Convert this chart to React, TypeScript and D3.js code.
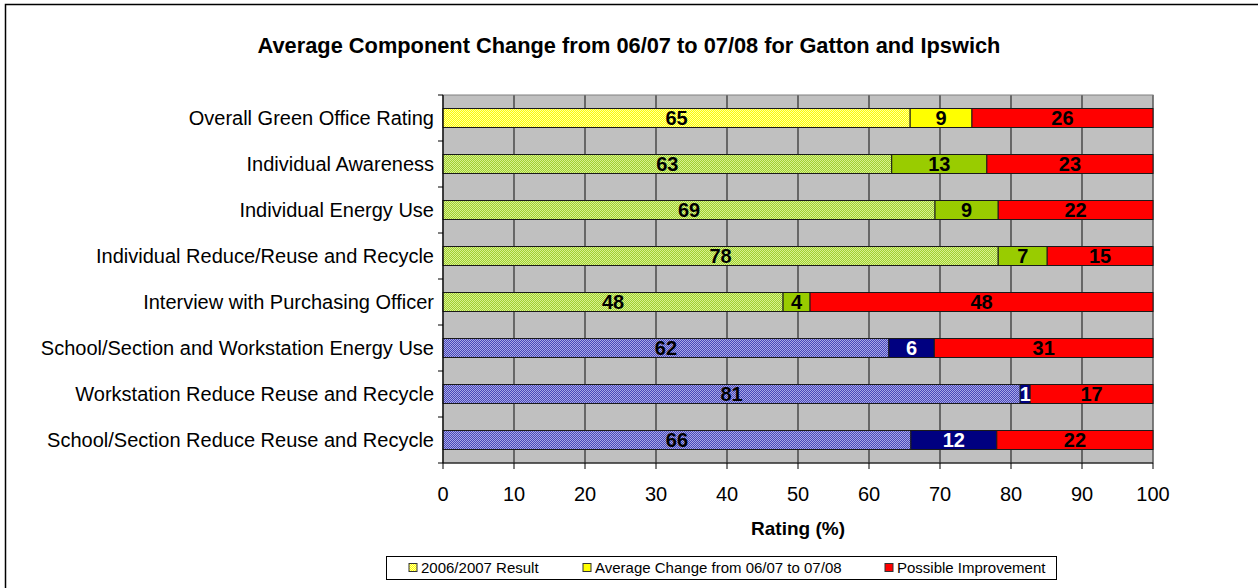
import React from "react";
import * as d3 from "d3";

const categories = [
  "Overall Green Office Rating",
  "Individual Awareness ",
  "Individual Energy Use",
  "Individual Reduce/Reuse and Recycle",
  "Interview with Purchasing Officer",
  "School/Section and Workstation Energy Use",
  "Workstation Reduce Reuse and Recycle",
  "School/Section Reduce Reuse and Recycle",
];
const groupOfCategory = ["yellow", "green", "green", "green", "green", "blue", "blue", "blue"];
const result0607 = [65.8, 63.2, 69.3, 78.2, 47.9, 62.8, 81.3, 65.9];
const avgChange = [8.7, 13.4, 8.9, 6.9, 3.8, 6.4, 1.4, 12.1];
const possibleImprovement = [25.5, 23.4, 21.8, 14.9, 48.3, 30.8, 17.3, 22.0];
const resultLabels = ["65", "63", "69", "78", "48", "62", "81", "66"];
const changeLabels = ["9", "13", "9", "7", "4", "6", "1", "12"];
const improvementLabels = ["26", "23", "22", "15", "48", "31", "17", "22"];
const xTicks = [0, 10, 20, 30, 40, 50, 60, 70, 80, 90, 100];
const legendLabels = ["2006/2007 Result", "Average Change from 06/07 to 07/08", "Possible Improvement"];
const title = "Average Component Change from 06/07 to 07/08 for Gatton and Ipswich";
const xAxisTitle = "Rating (%)";

const W = 1258;
const H = 588;
const plot = { left: 443, right: 1153, top: 95, bottom: 463 };
const FONT = "'Liberation Sans', Arial, sans-serif";

const patternFor: Record<string, string> = {
  yellow: "url(#patYellow)",
  green: "url(#patGreen)",
  blue: "url(#patBlue)",
};
const solidFor: Record<string, string> = {
  yellow: "#ffff00",
  green: "#99cc00",
  blue: "#000080",
};
const changeTextColor: Record<string, string> = {
  yellow: "#000",
  green: "#000",
  blue: "#fff",
};

export default function App() {
  const x = d3.scaleLinear().domain([0, 100]).range([plot.left, plot.right]);
  const p = 0.587;
  const y = d3
    .scaleBand<string>()
    .domain(categories)
    .range([plot.top, plot.bottom])
    .paddingInner(p)
    .paddingOuter(p / 2);
  const bw = y.bandwidth();
  const step = y.step();

  const segs: any[] = [];
  categories.forEach((c, i) => {
    const g = groupOfCategory[i];
    const vals = [result0607[i], avgChange[i], possibleImprovement[i]];
    const labels = [resultLabels[i], changeLabels[i], improvementLabels[i]];
    const fills = [patternFor[g], solidFor[g], "#ff0000"];
    const tcol = ["#000", changeTextColor[g], "#000"];
    let acc = 0;
    vals.forEach((v, k) => {
      segs.push({ c, x0: acc, x1: acc + v, label: labels[k], fill: fills[k], tcol: tcol[k], key: `${i}-${k}` });
      acc += v;
    });
  });

  const legendItems = [
    { label: legendLabels[0], fill: "url(#patYellow)", sx: 409, tx: 421 },
    { label: legendLabels[1], fill: "#ffff00", sx: 583, tx: 595 },
    { label: legendLabels[2], fill: "#ff0000", sx: 885, tx: 897 },
  ];

  return (
    <svg
      width={W}
      height={H}
      style={{ position: "absolute", left: 0, top: 0, background: "#fff" }}
      fontFamily={FONT}
    >
      <defs>
        <pattern id="patYellow" width="2" height="2" patternUnits="userSpaceOnUse">
          <rect width="2" height="2" fill="#ffff00" />
          <rect width="1" height="1" fill="#ffffa0" />
          <rect x="1" y="1" width="1" height="1" fill="#ffffa0" />
        </pattern>
        <pattern id="patGreen" width="2" height="2" patternUnits="userSpaceOnUse">
          <rect width="2" height="2" fill="#a0d030" />
          <rect width="1" height="1" fill="#d8f090" />
          <rect x="1" y="1" width="1" height="1" fill="#d8f090" />
        </pattern>
        <pattern id="patBlue" width="2" height="2" patternUnits="userSpaceOnUse">
          <rect width="2" height="2" fill="#4848b8" />
          <rect width="1" height="1" fill="#a8a8e8" />
          <rect x="1" y="1" width="1" height="1" fill="#a8a8e8" />
        </pattern>
      </defs>

      {/* outer border */}
      <rect x={5.5} y={4.5} width={W} height={H} fill="#fff" stroke="#000" strokeWidth={1.5} />

      <text x={629} y={53} textAnchor="middle" fontSize={21.8} fontWeight="bold">
        {title}
      </text>

      {/* plot area */}
      <rect
        x={plot.left}
        y={plot.top}
        width={plot.right - plot.left}
        height={plot.bottom - plot.top}
        fill="#c0c0c0"
      />
      {xTicks.map((t) => (
        <line key={`g${t}`} x1={x(t)} x2={x(t)} y1={plot.top} y2={plot.bottom} stroke="#2a2a2a" strokeWidth={1.2} />
      ))}
      <rect
        x={plot.left}
        y={plot.top}
        width={plot.right - plot.left}
        height={plot.bottom - plot.top}
        fill="none"
        stroke="#808080"
        strokeWidth={1}
      />

      {/* bars */}
      {segs.map((s) => (
        <rect
          key={`r${s.key}`}
          x={x(s.x0)}
          y={y(s.c)!}
          width={x(s.x1) - x(s.x0)}
          height={bw}
          fill={s.fill}
          stroke="#1a1a1a"
          strokeWidth={1}
        />
      ))}
      {segs.map((s) => (
        <text
          key={`t${s.key}`}
          x={(x(s.x0) + x(s.x1)) / 2}
          y={y(s.c)! + bw / 2 + 7}
          textAnchor="middle"
          fontSize={20}
          fontWeight="bold"
          fill={s.tcol}
        >
          {s.label}
        </text>
      ))}

      {/* y axis */}
      <line x1={plot.left} x2={plot.left} y1={plot.top} y2={plot.bottom} stroke="#000" />
      {d3.range(categories.length + 1).map((k) => (
        <line
          key={`yt${k}`}
          x1={plot.left - 5}
          x2={plot.left}
          y1={plot.top + k * step}
          y2={plot.top + k * step}
          stroke="#000"
        />
      ))}
      {categories.map((c) => (
        <text key={`yl${c}`} x={434} y={y(c)! + bw / 2 + 7} textAnchor="end" fontSize={20}>
          {c}
        </text>
      ))}

      {/* x axis */}
      <line x1={plot.left} x2={plot.right} y1={plot.bottom} y2={plot.bottom} stroke="#000" />
      {xTicks.map((t) => (
        <g key={`xt${t}`}>
          <line x1={x(t)} x2={x(t)} y1={plot.bottom} y2={plot.bottom + 6} stroke="#000" />
          <text x={x(t)} y={501} textAnchor="middle" fontSize={20}>
            {t}
          </text>
        </g>
      ))}
      <text x={(plot.left + plot.right) / 2} y={535} textAnchor="middle" fontSize={19} fontWeight="bold">
        {xAxisTitle}
      </text>

      {/* legend */}
      <rect x={386.5} y={556.5} width={670} height={23} fill="#fff" stroke="#000" strokeWidth={1} />
      {legendItems.map((it) => (
        <g key={it.label}>
          <rect x={it.sx} y={563.5} width={8} height={8} fill={it.fill} stroke="#333" strokeWidth={1} />
          <text x={it.tx} y={573} fontSize={15}>
            {it.label}
          </text>
        </g>
      ))}
    </svg>
  );
}
